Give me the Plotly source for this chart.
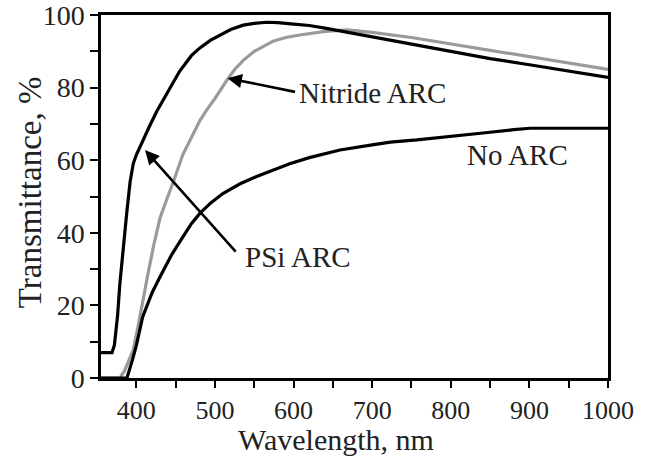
import plotly.graph_objects as go

# PSi ARC (black, upper curve)
psi_wl = [355, 362, 369, 372, 376, 379, 384, 388, 392, 396, 400, 405, 410, 417, 426, 440, 455, 470,
          480, 494, 510, 520, 536, 550, 566, 580, 600, 620, 640, 660, 680, 700,
          750, 800, 850, 900, 950, 1000]
psi_t = [7, 7, 7, 9, 17, 26, 38, 46, 54, 59, 61.5, 64, 66.5, 69.5, 73.5, 79, 84.5, 88.8, 90.8, 93,
         95, 96, 97.2, 97.7, 98, 97.9, 97.5, 97.1, 96.4, 95.6, 94.8, 94,
         92, 90, 88, 86.3, 84.5, 82.8]

# Nitride ARC (gray)
nit_wl = [355, 370, 379, 385, 390, 396, 402, 408, 415, 422, 430, 440, 447, 459, 470, 481, 490, 500,
          515, 525, 536, 550, 574, 590, 608, 640, 668, 700, 750, 800, 850, 900, 950, 1000]
nit_t = [0, 0, 0, 2, 4.5, 7.7, 14, 21.5, 29, 36.5, 44, 50, 54, 61.5, 66.5, 71, 74, 77,
         82, 85, 87.5, 90, 92.8, 93.8, 94.5, 95.5, 95.9, 95.2, 93.8, 92, 90.2, 88.5, 86.8, 85]

# No ARC (black, lower curve)
no_wl = [355, 380, 388, 395, 400, 408, 420, 430, 445, 459, 470, 481, 495, 510, 532, 553, 575, 595,
         620, 659, 700, 723, 757, 800, 841, 880, 901, 950, 1000]
no_t = [0, 0, 0, 5, 9, 16.8, 23.5, 27.8, 34, 38.8, 42.5, 45.4, 48.3, 50.8, 53.5, 55.5, 57.3, 59,
        60.7, 62.8, 64.2, 65, 65.6, 66.5, 67.5, 68.4, 68.8, 68.8, 68.8]

x_range = [355, 1000]
y_range = [0, 100]

FONT = "Liberation Serif, Times New Roman, serif"

fig = go.Figure()
fig.add_trace(go.Scatter(x=nit_wl, y=nit_t, mode="lines", line=dict(color="#9a9a9a", width=3.2),
                         name="Nitride ARC"))
fig.add_trace(go.Scatter(x=no_wl, y=no_t, mode="lines", line=dict(color="black", width=3.2),
                         name="No ARC"))
fig.add_trace(go.Scatter(x=psi_wl, y=psi_t, mode="lines", line=dict(color="black", width=3.2),
                         name="PSi ARC"))

ann_font = dict(family=FONT, size=29, color="#222")
annotations = [
    dict(x=701, y=78.5, text="Nitride ARC", showarrow=False, font=ann_font),
    dict(x=605, y=33.3, text="PSi ARC", showarrow=False, font=ann_font),
    dict(x=885, y=61.4, text="No ARC", showarrow=False, font=ann_font),
    # arrows
    dict(x=516, y=82.6, ax=69, ay=14, text="", showarrow=True, arrowhead=2, arrowsize=1.1,
         arrowwidth=2.6, arrowcolor="black"),
    dict(x=411, y=62.8, ax=92, ay=103, text="", showarrow=True, arrowhead=2, arrowsize=1.1,
         arrowwidth=2.6, arrowcolor="black"),
    # axis titles
    dict(xref="paper", yref="paper", x=0.4635, y=-0.17, text="Wavelength, nm", showarrow=False,
         font=dict(family=FONT, size=30, color="#222"), xanchor="center", yanchor="middle"),
    dict(xref="paper", yref="paper", x=-0.14, y=0.512, text="Transmittance, %", showarrow=False,
         textangle=-90, font=dict(family=FONT, size=33, color="#222"), xanchor="center",
         yanchor="middle"),
]

fig.update_layout(
    width=645, height=457,
    margin=dict(l=101, r=37, t=15, b=79),
    paper_bgcolor="white", plot_bgcolor="white",
    showlegend=False,
    annotations=annotations,
    font=dict(family=FONT, color="#222"),
)
fig.update_xaxes(
    range=x_range, tickmode="array", tickvals=[400, 500, 600, 700, 800, 900, 1000],
    ticks="outside", ticklen=7, tickwidth=2, tickcolor="black",
    minor=dict(tickvals=[450, 550, 650, 750, 850, 950], ticks="outside", ticklen=7, tickwidth=2,
               tickcolor="black"),
    showline=True, linewidth=2.5, linecolor="black", mirror=True, showgrid=False, zeroline=False,
    tickfont=dict(family=FONT, size=26, color="#222"), automargin=False,
    ticklabeloverflow="allow",
)
fig.update_yaxes(
    range=y_range, tickmode="array", tickvals=[0, 20, 40, 60, 80, 100],
    ticks="outside", ticklen=8, tickwidth=2, tickcolor="black",
    minor=dict(tickvals=[10, 30, 50, 70, 90], ticks="outside", ticklen=8, tickwidth=2,
               tickcolor="black"),
    showline=True, linewidth=2.5, linecolor="black", mirror=True, showgrid=False, zeroline=False,
    tickfont=dict(family=FONT, size=28, color="#222"), automargin=False,
    ticklabeloverflow="allow",
)

fig.write_html("out.html")
